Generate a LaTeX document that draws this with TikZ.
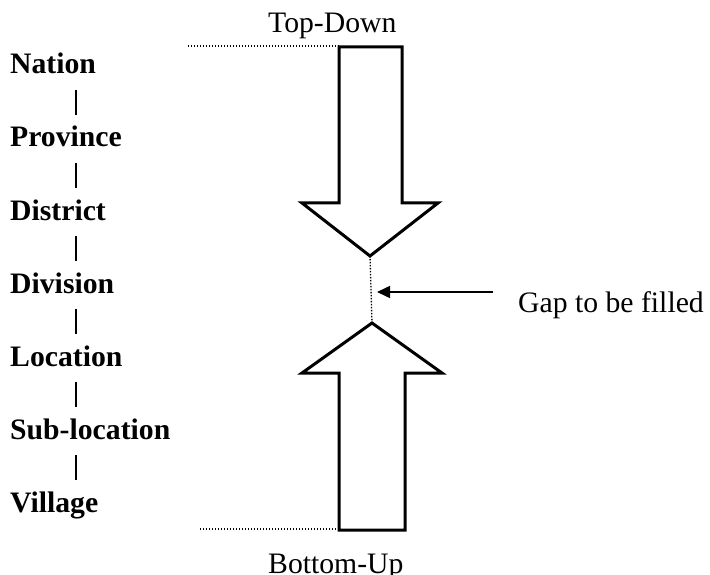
\documentclass[tikz,border=0pt]{standalone}
\usepackage{fontspec}
\setmainfont{Liberation Serif}
\usetikzlibrary{arrows.meta,calc}

\newcommand{\bigtext}{\fontsize{29.7pt}{36pt}\selectfont}

\tikzset{
  label text/.style={font=\bigtext, anchor=base west, inner sep=0pt},
  level/.style={label text, font=\bigtext\bfseries},
  levelbar/.style={line width=2pt},
  bigarrow/.style={draw, line width=3pt, line join=miter, fill=white},
  guide/.style={line width=1.3pt, dash pattern=on 1.3pt off 1.7pt},
  pointer/.style={line width=1.5pt, -{Triangle[length=13pt,width=12pt]}},
}

\begin{document}
\begin{tikzpicture}[x=1pt, y=-1pt]
  \useasboundingbox (0,0) rectangle (710,575);

  % administrative levels, top to bottom
  \node[level] (nation)   at (10,74)  {Nation};
  \node[level] (province) at (10,147) {Province};
  \node[level] (district) at (10,220) {District};
  \node[level] (division) at (10,293) {Division};
  \node[level] (location) at (10,366) {Location};
  \node[level] (subloc)   at (10,439) {Sub-location};
  \node[level] (village)  at (10,512) {Village};

  % short bars linking each level to the next
  \foreach \a/\b in {nation/province, province/district, district/division,
                     division/location, location/subloc, subloc/village}
    \draw[levelbar] ($(\a.base west)+(66,16)$) -- ($(\b.base west)+(66,-32)$);

  % downward arrow (top-down planning)
  \draw[bigarrow] (339,47) -- (402,47) -- (402,203) -- (438,203)
    -- (370,256) coordinate (downtip) -- (302,203) -- (339,203) -- cycle;
  \coordinate (downtop) at (339,46);

  % upward arrow (bottom-up planning)
  \draw[bigarrow] (339,530) -- (405,530) -- (405,373) -- (442,373)
    -- (372,323) coordinate (uptip) -- (302,373) -- (339,373) -- cycle;
  \coordinate (upbottom) at (339,529);

  \node[label text] (topdown)  at (268,33)  {Top-Down};
  \node[label text] (bottomup) at (268,573) {Bottom-Up};

  % dotted guides
  \coordinate (nationguide) at (188,46);
  \coordinate (villageguide) at (200,529);
  \draw[guide] (nationguide) -- (downtop);
  \draw[guide] (villageguide) -- (upbottom);
  \draw[guide] (downtip) -- (uptip);

  % the gap between the two arrows
  \node[label text] (gap) at (518,312) {Gap to be filled};
  \coordinate (gapstart) at (493,292);
  \coordinate (gapend) at (377,292);
  \draw[pointer] (gapstart) -- (gapend);
\end{tikzpicture}
\end{document}
